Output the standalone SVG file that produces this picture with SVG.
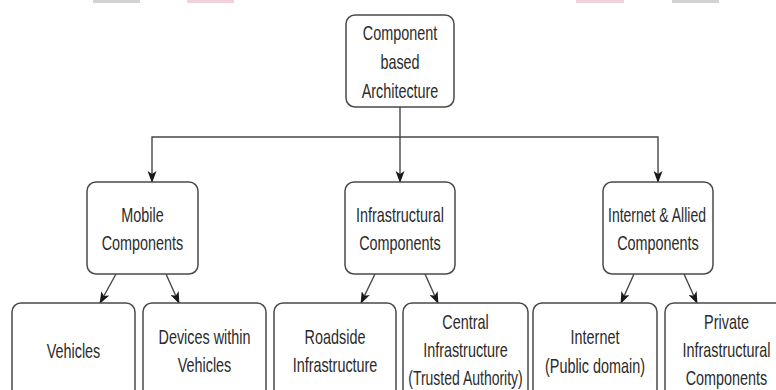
<svg xmlns="http://www.w3.org/2000/svg" width="776" height="390" viewBox="0 0 776 390">
<style>
.box{fill:#fff;stroke:#4a4a4a;stroke-width:1.5}
.t{font-family:"Liberation Sans",Arial,sans-serif;font-size:20px;fill:#2b2b2b;text-anchor:middle}
.c{fill:none;stroke:#474747;stroke-width:1.4}
</style>
<defs>
<marker id="ah" viewBox="0 0 12 9" refX="11" refY="4.5" markerWidth="12" markerHeight="9" orient="auto" markerUnits="userSpaceOnUse">
<path d="M0,0 L12,4.5 L0,9 L3,4.5 Z" fill="#1a1a1a"/>
</marker>
</defs>
<rect width="776" height="390" fill="#fff"/>
<g id="artifacts">
<rect x="93" y="0" width="47" height="3" fill="#d2d2d2"/>
<rect x="187" y="0" width="47" height="3" fill="#f2d2da"/>
<rect x="576" y="0" width="48" height="3" fill="#f2d2da"/>
<rect x="672" y="0" width="47" height="3" fill="#d2d2d2"/>
</g>
<g id="connectors">
<path class="c" d="M400,107 V182" marker-end="url(#ah)"/>
<path class="c" d="M400,137 H152 V182" marker-end="url(#ah)"/>
<path class="c" d="M400,137 H658 V182" marker-end="url(#ah)"/>
<path class="c" d="M116,274 L100,303" marker-end="url(#ah)"/>
<path class="c" d="M166,274 L179,303" marker-end="url(#ah)"/>
<path class="c" d="M375,274 L361,303" marker-end="url(#ah)"/>
<path class="c" d="M425,274 L438,303" marker-end="url(#ah)"/>
<path class="c" d="M634,274 L621,303" marker-end="url(#ah)"/>
<path class="c" d="M684,274 L697,303" marker-end="url(#ah)"/>
</g>
<g id="root">
<rect class="box" x="346" y="15" width="108" height="92" rx="9"/>
<text class="t" transform="translate(400 40) scale(0.72 1)">Component</text>
<text class="t" transform="translate(400 69) scale(0.72 1)">based</text>
<text class="t" transform="translate(400 98) scale(0.72 1)">Architecture</text>
</g>
<g id="mobile">
<rect class="box" x="87" y="182" width="111" height="92" rx="9"/>
<text class="t" transform="translate(142.5 222) scale(0.72 1)">Mobile</text>
<text class="t" transform="translate(142.5 250) scale(0.72 1)">Components</text>
</g>
<g id="infra">
<rect class="box" x="345" y="182" width="110" height="92" rx="9"/>
<text class="t" transform="translate(400 222) scale(0.72 1)">Infrastructural</text>
<text class="t" transform="translate(400 250) scale(0.72 1)">Components</text>
</g>
<g id="internet-allied">
<rect class="box" x="603" y="182" width="110" height="92" rx="9"/>
<text class="t" transform="translate(657 222) scale(0.7 1)">Internet &amp; Allied</text>
<text class="t" transform="translate(658 250) scale(0.72 1)">Components</text>
</g>
<g id="vehicles">
<rect class="box" x="12" y="303" width="123" height="100" rx="9"/>
<text class="t" transform="translate(73.5 358) scale(0.72 1)">Vehicles</text>
</g>
<g id="devices">
<rect class="box" x="143" y="303" width="123" height="100" rx="9"/>
<text class="t" transform="translate(204.5 344) scale(0.72 1)">Devices within</text>
<text class="t" transform="translate(204.5 372) scale(0.72 1)">Vehicles</text>
</g>
<g id="roadside">
<rect class="box" x="274" y="303" width="122" height="100" rx="9"/>
<text class="t" transform="translate(335 344) scale(0.72 1)">Roadside</text>
<text class="t" transform="translate(335 372) scale(0.72 1)">Infrastructure</text>
</g>
<g id="central">
<rect class="box" x="403" y="303" width="125" height="100" rx="9"/>
<text class="t" transform="translate(465.5 329) scale(0.72 1)">Central</text>
<text class="t" transform="translate(465.5 357) scale(0.72 1)">Infrastructure</text>
<text class="t" transform="translate(465.5 385) scale(0.7 1)">(Trusted Authority)</text>
</g>
<g id="internet">
<rect class="box" x="533" y="303" width="124" height="100" rx="9"/>
<text class="t" transform="translate(595 344) scale(0.72 1)">Internet</text>
<text class="t" transform="translate(595 373) scale(0.72 1)">(Public domain)</text>
</g>
<g id="private">
<rect class="box" x="665" y="303" width="123" height="100" rx="9"/>
<text class="t" transform="translate(726.5 329) scale(0.72 1)">Private</text>
<text class="t" transform="translate(726.5 357) scale(0.72 1)">Infrastructural</text>
<text class="t" transform="translate(726.5 385) scale(0.72 1)">Components</text>
</g>
</svg>
